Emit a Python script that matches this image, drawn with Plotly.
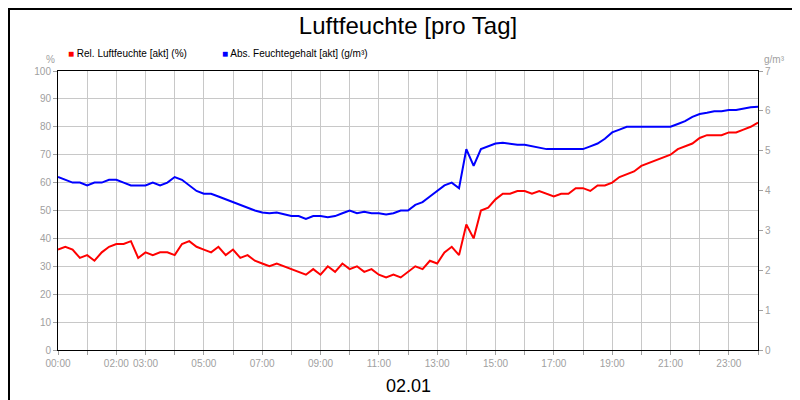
import plotly.graph_objects as go

hours = [i * 0.25 for i in range(97)]
rel = [36,37,36,33,34,32,35,37,38,38,39,33,35,34,35,35,34,38,39,37,36,35,37,34,36,33,34,32,
       31,30,31,30,29,28,27,29,27,30,28,31,29,30,28,29,27,26,27,26,28,30,29,32,31,35,37,34,
       45,40,50,51,54,56,56,57,57,56,57,56,55,56,56,58,58,57,59,59,60,62,63,64,66,67,68,69,
       70,72,73,74,76,77,77,77,78,78,79,80,81.5]
absf = [4.34,4.27,4.2,4.2,4.13,4.2,4.2,4.27,4.27,4.2,4.13,4.13,4.13,4.2,4.13,4.2,4.34,4.27,4.13,3.99,
        3.92,3.92,3.85,3.78,3.71,3.64,3.57,3.5,3.45,3.43,3.45,3.4,3.36,3.36,3.29,3.36,3.36,3.33,3.36,3.43,
        3.5,3.43,3.47,3.43,3.43,3.4,3.43,3.5,3.5,3.64,3.71,3.85,3.99,4.13,4.2,4.06,5.04,4.62,5.04,5.11,
        5.18,5.2,5.18,5.15,5.15,5.11,5.08,5.04,5.04,5.04,5.04,5.04,5.04,5.11,5.18,5.3,5.46,5.53,5.6,5.6,
        5.6,5.6,5.6,5.6,5.6,5.67,5.74,5.85,5.92,5.95,5.99,5.99,6.02,6.02,6.06,6.09,6.1]
tick_vals = list(range(25))
labeled = {0,2,3,5,7,9,11,13,15,17,19,21,23}
tick_text = [f"{h:02d}:00" if h in labeled else "" for h in tick_vals]

grey = "#a0a0a0"
fig = go.Figure()
fig.add_trace(go.Scatter(x=hours, y=rel, mode="lines", line=dict(color="#ff0000", width=2), showlegend=False))
fig.add_trace(go.Scatter(x=hours, y=absf, mode="lines", line=dict(color="#0000ff", width=2), yaxis="y2", showlegend=False))

fig.update_layout(
    width=800, height=400, paper_bgcolor="white", plot_bgcolor="white",
    margin=dict(l=50, r=50, t=63, b=58, autoexpand=False),
    font=dict(family="Liberation Sans, Arial", size=10, color=grey),
    title=dict(text="Luftfeuchte [pro Tag]", x=0.5, y=0.955, xanchor="center", yanchor="middle",
               font=dict(size=24, color="black")),
    xaxis=dict(range=[0, 24], tickvals=tick_vals, ticktext=tick_text, showgrid=True, gridcolor="#c8c8c8",
               ticks="outside", ticklen=4, tickcolor=grey, showline=True, linecolor="black", mirror=True,
               zeroline=False),
    yaxis=dict(range=[0, 100], dtick=10, showgrid=True, gridcolor="#c8c8c8", ticks="outside", ticklen=4,
               tickcolor=grey, showline=True, linecolor="black", zeroline=False),
    yaxis2=dict(range=[0, 7], dtick=1, overlaying="y", side="right", showgrid=False, ticks="outside",
                ticklen=4, tickcolor=grey, showline=True, linecolor="black", zeroline=False),
    annotations=[
        dict(text="<span style='color:#ff0000'>■</span> Rel. Luftfeuchte [akt] (%)", xref="paper", yref="paper",
             x=8/700, y=1, showarrow=False, xanchor="left", yanchor="bottom", yshift=10,
             font=dict(size=10, color="black")),
        dict(text="<span style='color:#0000ff'>■</span> Abs. Feuchtegehalt [akt] (g/m³)", xref="paper", yref="paper",
             x=(212-50)/700, y=1, showarrow=False, xanchor="left", yanchor="bottom", yshift=10,
             font=dict(size=10, color="black")),
        dict(text="%", xref="paper", yref="paper", x=-8/700, y=1, yshift=4, showarrow=False,
             xanchor="center", yanchor="bottom", font=dict(size=10, color=grey)),
        dict(text="g/m³", xref="paper", yref="paper", x=1+16/700, y=1, yshift=4, showarrow=False,
             xanchor="center", yanchor="bottom", font=dict(size=10, color=grey)),
        dict(text="02.01", xref="paper", yref="paper", x=0.5, y=0, yshift=-36, showarrow=False,
             xanchor="center", yanchor="middle", font=dict(size=18, color="black")),
    ],
    shapes=[dict(type="rect", xref="paper", yref="paper", x0=-49/700, x1=1+49/700, y0=-57/279, y1=1+62/279,
                 line=dict(color="black", width=2))],
)
fig.write_html("out.html")
